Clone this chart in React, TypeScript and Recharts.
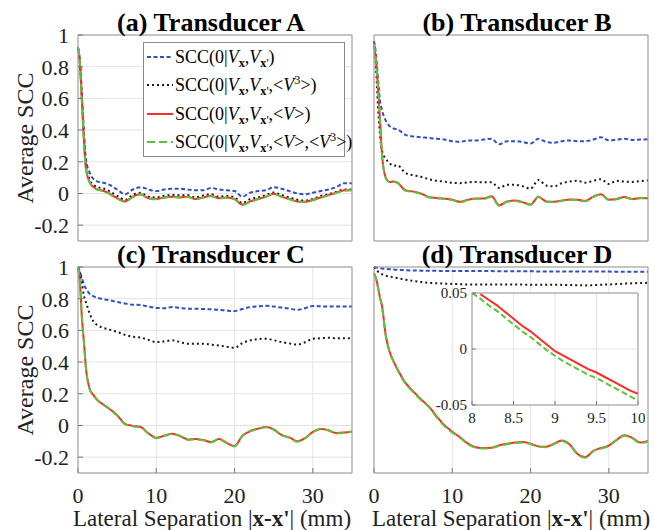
import React from 'react'
import { LineChart, Line, XAxis, YAxis, CartesianGrid, Legend } from 'recharts'

const SERIF = '"Liberation Serif", "Times New Roman", Times, serif'
const BLUE = '#2f50c6'
const BLACK = '#1a1a1a'
const RED = '#ff2a2a'
const GREEN = '#5cc23a'
const AXIS = '#9a9a9a'
const GRID = '#e4e4e4'
const INK = '#222'

// lateral separation (mm)
const xs = [0, 0.25, 0.5, 0.75, 1, 1.5, 2, 2.5, 3, 4, 5, 6, 7, 8, 9, 10, 11, 12, 13, 14, 15, 16, 17, 18, 19, 20, 21, 22, 23, 24, 25, 26, 27, 28, 29, 30, 31, 32, 33, 34, 35]

// (a) Transducer A
const aBlue = [0.92, 0.83, 0.62, 0.4, 0.22, 0.13, 0.09, 0.075, 0.07, 0.055, 0.025, -0.005, 0.025, 0.04, 0.025, 0.015, 0.025, 0.03, 0.03, 0.025, 0.02, 0.02, 0.035, 0.025, 0.02, 0.015, -0.02, 0.005, 0.015, 0.02, 0.04, 0.03, 0.015, 0.0, -0.005, 0.005, 0.015, 0.025, 0.04, 0.065, 0.065]
const aBlack = [0.92, 0.82, 0.6, 0.36, 0.18, 0.085, 0.055, 0.04, 0.035, 0.015, -0.015, -0.04, -0.01, 0.005, -0.02, -0.025, -0.015, -0.01, -0.012, -0.01, -0.025, -0.012, -0.005, -0.02, -0.015, -0.025, -0.06, -0.035, -0.025, -0.01, 0.006, -0.01, -0.025, -0.04, -0.045, -0.035, -0.015, -0.005, 0.01, 0.025, 0.025]
const aRed = [0.92, 0.82, 0.58, 0.34, 0.16, 0.07, 0.04, 0.025, 0.02, 0.0, -0.03, -0.05, -0.02, -0.005, -0.03, -0.035, -0.025, -0.02, -0.025, -0.02, -0.035, -0.025, -0.015, -0.03, -0.025, -0.035, -0.07, -0.05, -0.035, -0.02, -0.002, -0.02, -0.035, -0.05, -0.052, -0.04, -0.025, -0.01, 0.005, 0.02, 0.022]
const aGreen = [0.92, 0.82, 0.58, 0.34, 0.16, 0.068, 0.038, 0.023, 0.018, -0.003, -0.033, -0.053, -0.023, -0.007, -0.032, -0.037, -0.027, -0.022, -0.027, -0.022, -0.037, -0.027, -0.017, -0.032, -0.027, -0.037, -0.073, -0.052, -0.037, -0.022, -0.004, -0.022, -0.037, -0.052, -0.055, -0.043, -0.027, -0.012, 0.003, 0.018, 0.02]

// (b) Transducer B
const bBlue = [0.96, 0.88, 0.73, 0.59, 0.53, 0.46, 0.425, 0.41, 0.405, 0.37, 0.36, 0.355, 0.35, 0.345, 0.34, 0.33, 0.326, 0.335, 0.335, 0.34, 0.345, 0.31, 0.33, 0.33, 0.325, 0.315, 0.345, 0.325, 0.32, 0.33, 0.335, 0.33, 0.33, 0.34, 0.355, 0.335, 0.34, 0.345, 0.338, 0.34, 0.343]
const bBlack = [0.96, 0.8, 0.56, 0.38, 0.27, 0.22, 0.19, 0.175, 0.178, 0.13, 0.115, 0.105, 0.09, 0.08, 0.075, 0.067, 0.065, 0.07, 0.073, 0.07, 0.07, 0.035, 0.055, 0.055, 0.045, 0.03, 0.085, 0.05, 0.045, 0.065, 0.075, 0.08, 0.068, 0.08, 0.09, 0.06, 0.08, 0.075, 0.073, 0.078, 0.082]
const bRed = [0.94, 0.84, 0.68, 0.48, 0.26, 0.1, 0.073, 0.076, 0.068, 0.02, 0.012, 0.0, -0.022, -0.028, -0.033, -0.04, -0.053, -0.04, -0.032, -0.032, -0.018, -0.075, -0.05, -0.045, -0.055, -0.07, -0.02, -0.05, -0.052, -0.045, -0.038, -0.04, -0.047, -0.02, -0.005, -0.04, -0.035, -0.022, -0.035, -0.028, -0.03]
const bGreen = [0.94, 0.84, 0.68, 0.48, 0.26, 0.098, 0.071, 0.074, 0.066, 0.018, 0.01, -0.002, -0.024, -0.03, -0.035, -0.042, -0.055, -0.042, -0.034, -0.034, -0.02, -0.077, -0.052, -0.047, -0.057, -0.072, -0.022, -0.052, -0.054, -0.047, -0.04, -0.042, -0.049, -0.022, -0.007, -0.042, -0.037, -0.024, -0.037, -0.03, -0.032]

// (c) Transducer C
const cBlue = [1.0, 0.97, 0.93, 0.89, 0.865, 0.83, 0.815, 0.805, 0.8, 0.79, 0.78, 0.77, 0.762, 0.76, 0.75, 0.742, 0.74, 0.747, 0.742, 0.737, 0.737, 0.735, 0.733, 0.73, 0.725, 0.722, 0.735, 0.747, 0.752, 0.755, 0.75, 0.744, 0.737, 0.73, 0.74, 0.754, 0.752, 0.75, 0.75, 0.75, 0.75]
const cBlack = [1.0, 0.96, 0.9, 0.82, 0.78, 0.705, 0.655, 0.632, 0.62, 0.605, 0.59, 0.572, 0.56, 0.555, 0.54, 0.526, 0.53, 0.537, 0.527, 0.515, 0.515, 0.516, 0.51, 0.505, 0.497, 0.49, 0.52, 0.537, 0.545, 0.548, 0.538, 0.526, 0.518, 0.51, 0.525, 0.547, 0.55, 0.553, 0.55, 0.55, 0.55]
const cRed = [1.0, 0.9, 0.68, 0.53, 0.37, 0.23, 0.19, 0.16, 0.14, 0.105, 0.065, 0.01, -0.003, -0.01, -0.05, -0.078, -0.065, -0.052, -0.065, -0.088, -0.085, -0.092, -0.105, -0.085, -0.11, -0.13, -0.065, -0.035, -0.02, -0.01, -0.025, -0.06, -0.075, -0.1, -0.08, -0.04, -0.022, -0.03, -0.048, -0.045, -0.038]
const cGreen = [1.0, 0.9, 0.68, 0.53, 0.37, 0.228, 0.188, 0.158, 0.138, 0.103, 0.063, 0.008, -0.005, -0.012, -0.052, -0.08, -0.067, -0.054, -0.067, -0.09, -0.087, -0.094, -0.107, -0.087, -0.112, -0.132, -0.067, -0.037, -0.022, -0.012, -0.027, -0.062, -0.077, -0.102, -0.082, -0.042, -0.024, -0.032, -0.05, -0.047, -0.04]

// (d) Transducer D
const dBlue = [1.0, 0.997, 0.994, 0.992, 0.99, 0.988, 0.986, 0.984, 0.982, 0.98, 0.978, 0.977, 0.976, 0.976, 0.975, 0.975, 0.975, 0.974, 0.974, 0.974, 0.974, 0.973, 0.973, 0.973, 0.973, 0.973, 0.972, 0.972, 0.972, 0.972, 0.972, 0.971, 0.971, 0.971, 0.971, 0.971, 0.97, 0.97, 0.97, 0.97, 0.97]
const dBlack = [1.0, 0.985, 0.972, 0.962, 0.955, 0.945, 0.94, 0.935, 0.93, 0.92, 0.912, 0.905, 0.9, 0.897, 0.895, 0.893, 0.891, 0.889, 0.889, 0.889, 0.889, 0.89, 0.89, 0.889, 0.889, 0.888, 0.888, 0.888, 0.888, 0.887, 0.886, 0.885, 0.884, 0.885, 0.888, 0.89, 0.892, 0.895, 0.897, 0.899, 0.9]
const dRed = [0.96, 0.93, 0.875, 0.81, 0.76, 0.57, 0.465, 0.405, 0.355, 0.27, 0.215, 0.165, 0.12, 0.058, 0.002, -0.04, -0.075, -0.115, -0.137, -0.143, -0.14, -0.125, -0.115, -0.108, -0.105, -0.115, -0.132, -0.135, -0.115, -0.095, -0.12, -0.18, -0.2, -0.16, -0.142, -0.127, -0.09, -0.062, -0.078, -0.108, -0.098]
const dGreen = [0.96, 0.93, 0.873, 0.806, 0.756, 0.566, 0.461, 0.401, 0.351, 0.266, 0.211, 0.161, 0.116, 0.053, -0.004, -0.045, -0.079, -0.118, -0.14, -0.146, -0.143, -0.128, -0.118, -0.111, -0.108, -0.118, -0.135, -0.138, -0.118, -0.098, -0.123, -0.183, -0.203, -0.163, -0.145, -0.13, -0.093, -0.065, -0.081, -0.111, -0.101]

// inset of (d): zoom on 8-10 mm
const insetX = [8, 8.1, 8.2, 8.3, 8.4, 8.5, 8.6, 8.7, 8.8, 8.9, 9, 9.1, 9.2, 9.3, 9.4, 9.5, 9.6, 9.7, 9.8, 9.9, 10]
const insetRed = [null, 0.049, 0.044, 0.039, 0.033, 0.027, 0.021, 0.016, 0.01, 0.004, -0.002, -0.006, -0.01, -0.014, -0.018, -0.021, -0.025, -0.029, -0.033, -0.037, -0.04]
const insetGreen = [0.05, 0.045, 0.039, 0.034, 0.028, 0.022, 0.016, 0.011, 0.005, -0.001, -0.006, -0.011, -0.015, -0.019, -0.023, -0.026, -0.03, -0.034, -0.038, -0.042, -0.046]

const X_TICKS = [0, 10, 20, 30]
const Y_TICKS = [-0.2, 0, 0.2, 0.4, 0.6, 0.8, 1]
const INSET_X_TICKS = [8, 8.5, 9, 9.5, 10]
const INSET_Y_TICKS = [-0.05, 0, 0.05]

const toRows = (blue: number[], black: number[], red: number[], green: number[]) =>
  xs.map((x, i) => ({ x, blue: blue[i], black: black[i], red: red[i], green: green[i] }))

const SUB = { fontSize: '0.68em', verticalAlign: '-0.35em', lineHeight: 0 }
const SUP = { fontSize: '0.68em', verticalAlign: '0.55em', lineHeight: 0 }

const Vx = () => <><i>V</i><sub style={SUB}><b>x</b></sub></>
const Vxp = () => <><i>V</i><sub style={SUB}><b>x</b>'</sub></>
const V3 = () => <>&lt;<i>V</i><sup style={SUP}>3</sup>&gt;</>
const Vm = () => <>&lt;<i>V</i>&gt;</>

const series = [
  { key: 'blue', color: BLUE, dash: '4 2.5', label: <>SCC(0|<Vx />,<Vxp />)</> },
  { key: 'black', color: BLACK, dash: '2 3', label: <>SCC(0|<Vx />,<Vxp />,<V3 />)</> },
  { key: 'red', color: RED, dash: undefined, label: <>SCC(0|<Vx />,<Vxp />,<Vm />)</> },
  { key: 'green', color: GREEN, dash: '8 4', label: <>SCC(0|<Vx />,<Vxp />,<Vm />,<V3 />)</> },
]

const LegendBox = () => (
  <div style={{
    width: 202, height: 115, boxSizing: 'border-box', border: '1px solid #8a8a8a',
    background: '#fff', fontFamily: SERIF, fontSize: 18, color: '#000',
  }}>
    {series.map(s => (
      <div key={s.key} style={{ display: 'flex', alignItems: 'center', height: 28.3 }}>
        <svg width={26} height={8} style={{ marginLeft: 3, flex: 'none' }}>
          <line x1={0} y1={4} x2={26} y2={4} stroke={s.color} strokeWidth={2} strokeDasharray={s.dash} />
        </svg>
        <span style={{ marginLeft: 2, whiteSpace: 'nowrap', lineHeight: 1 }}>{s.label}</span>
      </div>
    ))}
  </div>
)

const tickStyle = { fill: INK, fontSize: 22, fontFamily: SERIF }

interface PanelProps {
  left: number
  top: number
  width: number
  height: number
  margin: { top: number; right: number; bottom: number; left: number }
  rows: any[]
  title: string
  titleX: number
  titleY: number
  xLabelX: number
  yLabels?: boolean
  xLabels?: boolean
  legend?: boolean
}

// plot area is 206px tall in every panel; top/right axes take 1px each
function Panel({ left, top, width, height, margin, rows, title, titleX, titleY, xLabelX, yLabels, xLabels, legend }: PanelProps) {
  const plotMidY = margin.top + 1 + 103
  // title and y-axis caption ride on the left axis label
  const sideLabels = () => (
    <g>
      <text x={titleX} y={titleY} textAnchor="middle" fontFamily={SERIF} fontSize={26} fontWeight="bold" fill="#000">
        {title}
      </text>
      {yLabels && (
        <text x={33} y={plotMidY} transform={`rotate(-90 33 ${plotMidY})`} textAnchor="middle"
          fontFamily={SERIF} fontSize={24} fill={INK}>
          Average SCC
        </text>
      )}
    </g>
  )
  return (
    <div style={{ position: 'absolute', left, top }}>
      <LineChart width={width} height={height} data={rows} margin={margin}>
        <CartesianGrid stroke={GRID} />
        <XAxis
          dataKey="x" type="number" domain={[0, 35]} ticks={X_TICKS} interval={0}
          height={xLabels ? height - margin.top - 1 - 206 : 1}
          tick={xLabels ? tickStyle : false} tickSize={-5} tickMargin={19}
          axisLine={{ stroke: AXIS }} tickLine={{ stroke: '#777' }}
          label={xLabels ? () => (
            <text x={xLabelX} y={296} textAnchor="middle" fontFamily={SERIF} fontSize={23} fill={INK}>
              Lateral Separation |<tspan fontWeight="bold">x-x'</tspan>| (mm)
            </text>
          ) : undefined}
        />
        <XAxis
          xAxisId="top" orientation="top" dataKey="x" type="number" domain={[0, 35]} ticks={X_TICKS}
          interval={0} height={1} tick={false} tickSize={-5}
          axisLine={{ stroke: AXIS }} tickLine={{ stroke: '#777' }}
        />
        <YAxis
          type="number" domain={[-0.3, 1]} ticks={Y_TICKS} interval={0}
          width={yLabels ? 78 : 1}
          tick={yLabels ? tickStyle : false} tickSize={-5} tickMargin={14}
          axisLine={{ stroke: AXIS }} tickLine={{ stroke: '#777' }}
          label={sideLabels}
        />
        <YAxis
          yAxisId="right" orientation="right" type="number" domain={[-0.3, 1]} ticks={Y_TICKS}
          interval={0} width={1} tick={false} tickSize={-5}
          axisLine={{ stroke: AXIS }} tickLine={{ stroke: '#777' }}
        />
        {series.map(s => (
          <Line
            key={s.key} type="monotone" dataKey={s.key} stroke={s.color} strokeWidth={2}
            strokeDasharray={s.dash} dot={false} activeDot={false} isAnimationActive={false}
          />
        ))}
        {legend && (
          <Legend
            layout="horizontal" align="center" verticalAlign="middle"
            content={() => <LegendBox />}
            wrapperStyle={{ left: 143, top: 42, right: 'auto', bottom: 'auto', width: 202, height: 115, margin: 0 }}
          />
        )}
      </LineChart>
    </div>
  )
}

function Inset() {
  const rows = insetX.map((x, i) => ({ x, red: insetRed[i], green: insetGreen[i] }))
  const small = { fill: INK, fontSize: 15, fontFamily: SERIF }
  return (
    <div style={{ position: 'absolute', left: 420, top: 285 }}>
      <LineChart width={225} height={140} data={rows} margin={{ top: 7, right: 6, bottom: 0, left: 0 }}>
        <CartesianGrid stroke={GRID} fill="#fff" fillOpacity={1} />
        <XAxis
          dataKey="x" type="number" domain={[8, 10]} ticks={INSET_X_TICKS} interval={0} height={20}
          tick={small} tickSize={-4} tickMargin={11}
          axisLine={{ stroke: AXIS }} tickLine={{ stroke: '#777' }}
        />
        <XAxis
          xAxisId="top" orientation="top" dataKey="x" type="number" domain={[8, 10]} ticks={INSET_X_TICKS}
          interval={0} height={1} tick={false} tickSize={-4}
          axisLine={{ stroke: AXIS }} tickLine={{ stroke: '#777' }}
        />
        <YAxis
          type="number" domain={[-0.05, 0.05]} ticks={INSET_Y_TICKS} interval={0} width={52}
          tick={small} tickSize={-4} tickMargin={9}
          axisLine={{ stroke: AXIS }} tickLine={{ stroke: '#777' }}
        />
        <YAxis
          yAxisId="right" orientation="right" type="number" domain={[-0.05, 0.05]} ticks={INSET_Y_TICKS}
          interval={0} width={1} tick={false} tickSize={-4}
          axisLine={{ stroke: AXIS }} tickLine={{ stroke: '#777' }}
        />
        <Line type="linear" dataKey="red" stroke={RED} strokeWidth={2} dot={false} activeDot={false} isAnimationActive={false} />
        <Line type="linear" dataKey="green" stroke={GREEN} strokeWidth={2} strokeDasharray="6 3" dot={false} activeDot={false} isAnimationActive={false} />
      </LineChart>
    </div>
  )
}

export default function App() {
  return (
    <div style={{ position: 'absolute', left: 0, top: 0, width: 654, height: 530, background: '#fff', overflow: 'hidden' }}>
      <Panel
        left={0} top={0} width={360} height={250}
        margin={{ top: 34, right: 7, bottom: 8, left: 0 }}
        rows={toRows(aBlue, aBlack, aRed, aGreen)}
        title="(a) Transducer A" titleX={211} titleY={31} xLabelX={212} yLabels legend
      />
      <Panel
        left={360} top={0} width={294} height={250}
        margin={{ top: 34, right: 5, bottom: 8, left: 13 }}
        rows={toRows(bBlue, bBlack, bRed, bGreen)}
        title="(b) Transducer B" titleX={157} titleY={31} xLabelX={151}
      />
      <Panel
        left={0} top={230} width={360} height={300}
        margin={{ top: 36, right: 7, bottom: 0, left: 0 }}
        rows={toRows(cBlue, cBlack, cRed, cGreen)}
        title="(c) Transducer C" titleX={211} titleY={33} xLabelX={212} yLabels xLabels
      />
      <Panel
        left={360} top={230} width={294} height={300}
        margin={{ top: 36, right: 5, bottom: 0, left: 13 }}
        rows={toRows(dBlue, dBlack, dRed, dGreen)}
        title="(d) Transducer D" titleX={157} titleY={33} xLabelX={151} xLabels
      />
      <Inset />
    </div>
  )
}
